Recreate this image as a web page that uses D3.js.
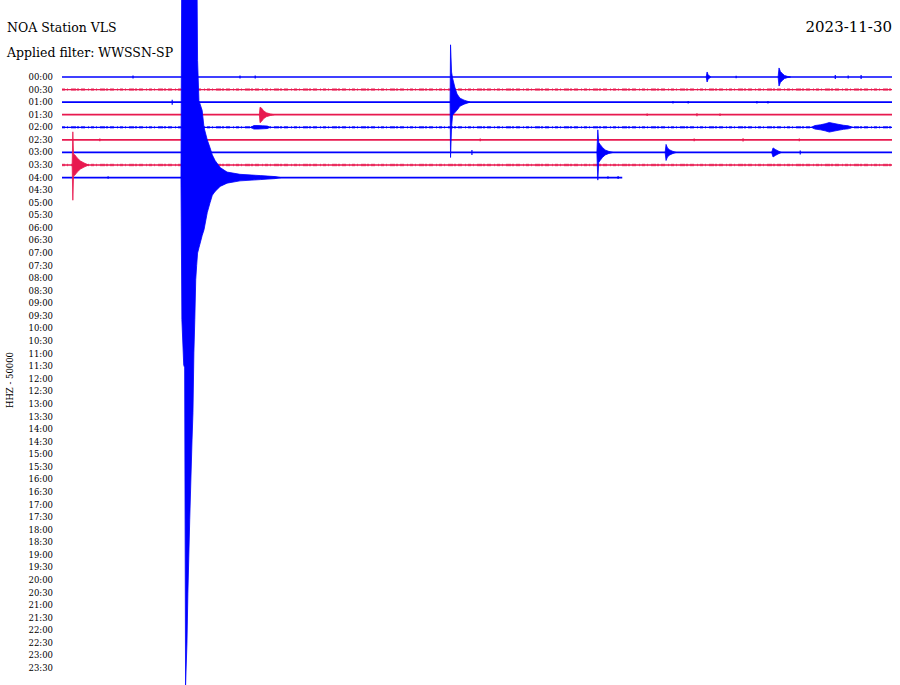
<!DOCTYPE html>
<html>
<head>
<meta charset="utf-8">
<script src="https://cdn.jsdelivr.net/npm/d3@7"></script>
<style>
  html, body { margin: 0; padding: 0; background: #fff; }
  svg { display: block; }
  text { font-family: "DejaVu Serif", serif; fill: #000; }
</style>
</head>
<body>
<div id="viz"></div>
<script>
const width = 900;
const height = 685;

// row labels, one per half hour
const timeLabels = [
  "00:00","00:30","01:00","01:30","02:00","02:30","03:00","03:30",
  "04:00","04:30","05:00","05:30","06:00","06:30","07:00","07:30",
  "08:00","08:30","09:00","09:30","10:00","10:30","11:00","11:30",
  "12:00","12:30","13:00","13:30","14:00","14:30","15:00","15:30",
  "16:00","16:30","17:00","17:30","18:00","18:30","19:00","19:30",
  "20:00","20:30","21:00","21:30","22:00","22:30","23:00","23:30"
];

// recorded rows: seconds of data in each row and background noise (k counts)
const traceEnd   = [1800, 1800, 1800, 1800, 1800, 1800, 1800, 1800, 1215];
const traceNoise = [0, 6, 0, 0, 6, 0, 0, 6, 0];

// big quake on the 04:00 row (t in s from row start, amplitude in k counts)
const quakeT    = [258, 260, 264, 266, 268, 271, 273, 277, 282, 284, 286, 288, 290, 292, 294, 297, 304, 308, 315, 321, 326, 332, 343, 358, 386, 430, 462, 475];
const quakeUp   = [0, 1000, 1000, 1000, 1000, 1000, 1000, 1000, 1000, 1000, 1000, 1000, 1000, 1000, 466, 306, 267, 199, 150, 119, 90, 68, 40, 22, 13, 8, 4, 0];
const quakeDown = [0, 565, 745, 756, 2018, 1851, 1652, 1361, 1043, 935, 697, 565, 406, 350, 300, 279, 230, 207, 139, 100, 70, 55, 35, 22, 13, 8, 4, 0];

// smaller events: row index, times, upper and lower envelope
const eventRows  = [2, 6, 6, 6, 0, 0, 3, 4, 4, 7];
const eventTimes = [
  [841.6, 842.6, 844.8, 847, 852.4, 856.8, 863, 872, 885],
  [1160, 1162, 1164, 1167, 1172, 1178, 1186, 1195],
  [1308, 1310, 1313, 1318, 1325, 1332],
  [1539, 1542, 1547, 1553, 1560],
  [1553, 1555, 1558, 1562, 1567, 1574, 1580],
  [1397, 1399, 1401, 1404, 1407],
  [428, 429.5, 433, 437, 443, 452, 460],
  [1625, 1633, 1645, 1655, 1664, 1672, 1683, 1695, 1705, 1715],
  [410, 416, 425, 435, 445, 452],
  [22, 23.5, 25, 28, 33, 40, 48, 58]
];
const eventUp = [
  [0, 228, 120, 96, 56, 32, 16, 8, 0],
  [0, 90, 40, 32, 20, 10, 4, 0],
  [0, 32, 18, 10, 4, 0],
  [0, 18, 12, 6, 0],
  [0, 36, 22, 14, 6, 2, 0],
  [0, 20, 10, 4, 0],
  [0, 30, 26, 16, 8, 3, 0],
  [0, 7, 10, 14, 19, 16, 12, 8, 6, 0],
  [0, 7, 7, 6, 5, 0],
  [0, 132, 44, 40, 28, 16, 8, 0]
];
const eventDown = [
  [0, 220, 100, 52, 40, 32, 16, 8, 0],
  [0, 110, 40, 32, 20, 10, 4, 0],
  [0, 32, 18, 10, 4, 0],
  [0, 18, 12, 6, 0],
  [0, 36, 22, 14, 6, 2, 0],
  [0, 20, 10, 4, 0],
  [0, 32, 26, 16, 8, 3, 0],
  [0, 7, 10, 14, 19, 16, 12, 8, 6, 0],
  [0, 7, 7, 6, 5, 0],
  [0, 140, 44, 40, 28, 16, 8, 0]
];

// tiny single blips
const blipRow  = [0, 0, 0, 0, 0, 0, 0, 2, 2, 2, 2, 2, 3, 3, 3, 5, 5, 5, 5, 5, 6, 6, 8, 8, 8];
const blipTime = [154, 386, 419, 1462, 1677, 1705, 1733, 239, 1325, 1358, 1507, 1531, 1269, 1377, 1427, 82, 907, 1371, 1477, 1599, 889, 1601, 100, 1184, 1206];
const blipAmp  = [6, 6, 6, 5, 8, 6, 8, 10, 5, 5, 5, 5, 5, 6, 5, 5, 5, 5, 6, 5, 10, 8, 5, 5, 6];

const colors = ["#0000ff", "#e8194f"];

const svg = d3.select("#viz")
  .append("svg")
  .attr("width", width)
  .attr("height", height);

const x = d3.scaleLinear().domain([0, 1800]).range([62, 892]);
const y = d3.scalePoint().domain(timeLabels).range([77, 668]);
const step = y.step();
// 50000 counts (50 k) = one row spacing
const amp = d3.scaleLinear().domain([0, 50]).range([0, step]);

// header texts (drawn first so the quake covers them)
svg.append("text")
  .attr("x", 7).attr("y", 32)
  .style("font-size", "12.5px")
  .text("NOA Station VLS");
svg.append("text")
  .attr("x", 7).attr("y", 57)
  .style("font-size", "12.5px")
  .text("Applied filter: WWSSN-SP");
svg.append("text")
  .attr("x", 892).attr("y", 32)
  .attr("text-anchor", "end")
  .style("font-size", "15px")
  .text("2023-11-30");

// row labels
svg.append("g")
  .selectAll("text")
  .data(timeLabels)
  .join("text")
  .attr("x", 53)
  .attr("y", d => y(d) + 3)
  .attr("text-anchor", "end")
  .style("font-size", "8.5px")
  .text(d => d);

svg.append("text")
  .attr("transform", "translate(13,380) rotate(-90)")
  .attr("text-anchor", "middle")
  .style("font-size", "8.5px")
  .text("HHZ - 50000");

// baselines
const rowsG = svg.append("g");
traceEnd.forEach((end, i) => {
  const base = y(timeLabels[i]);
  const col = colors[i % 2];
  rowsG.append("line")
    .attr("x1", x(0)).attr("x2", x(end))
    .attr("y1", base).attr("y2", base)
    .attr("stroke", col)
    .attr("stroke-width", traceNoise[i] ? 1.3 : 1.7);
  if (traceNoise[i]) {
    rowsG.append("line")
      .attr("x1", x(0)).attr("x2", x(end))
      .attr("y1", base).attr("y2", base)
      .attr("stroke", col)
      .attr("stroke-width", amp(traceNoise[i]) * 1.7)
      .attr("stroke-dasharray", "3 2 1 3 5 1 2 2 4 3 1 2")
      .attr("opacity", 0.6);
  }
});

// blips
rowsG.selectAll(".blip")
  .data(blipRow.map((r, i) => ({ r, t: blipTime[i], a: blipAmp[i] })))
  .join("line")
  .attr("class", "blip")
  .attr("x1", d => x(d.t)).attr("x2", d => x(d.t))
  .attr("y1", d => y(timeLabels[d.r]) - amp(d.a))
  .attr("y2", d => y(timeLabels[d.r]) + amp(d.a))
  .attr("stroke", d => colors[d.r % 2])
  .attr("stroke-width", 1.2);

// event envelopes
function drawEvent(row, ts, up, down) {
  const base = y(timeLabels[row]);
  const pts = ts.map((t, i) => ({ t, u: up[i], d: down[i] }));
  const area = d3.area()
    .x(d => x(d.t))
    .y0(d => base + amp(d.d))
    .y1(d => base - amp(d.u));
  svg.append("path")
    .datum(pts)
    .attr("d", area)
    .attr("fill", colors[row % 2])
    .attr("stroke", colors[row % 2])
    .attr("stroke-width", 0.8);
}

eventRows.forEach((r, i) => drawEvent(r, eventTimes[i], eventUp[i], eventDown[i]));
drawEvent(8, quakeT, quakeUp, quakeDown);
</script>
</body>
</html>
